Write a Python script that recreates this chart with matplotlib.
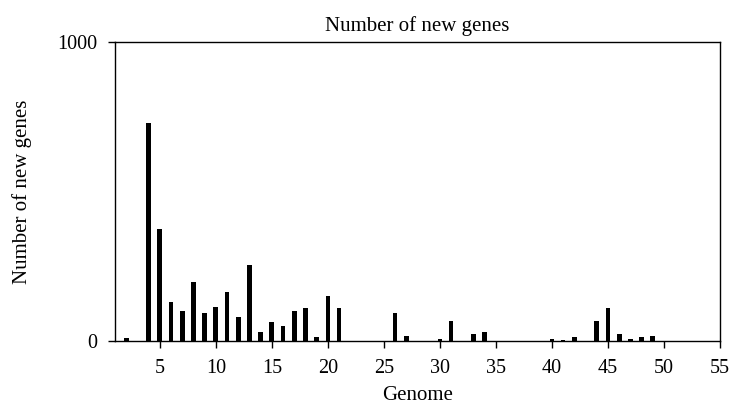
import matplotlib
matplotlib.use("Agg")
import matplotlib.pyplot as plt

# Datos
genomas = [2, 4, 5, 6, 7, 8, 9, 10, 11, 12, 13, 14, 15, 16, 17, 18, 19, 20, 21,
           26, 27, 30, 31, 33, 34, 40, 41, 42, 44, 45, 46, 47, 48, 49]
genes_nuevos = [10, 730, 376, 130, 101, 198, 92, 114, 165, 80, 255, 29, 63, 51, 101, 111, 13, 151, 109,
                93, 18, 7, 68, 25, 31, 5, 3, 13, 67, 109, 22, 8, 12, 15]
ticks_x = [5, 10, 15, 20, 25, 30, 35, 40, 45, 50, 55]
ticks_y = [0, 1000]

plt.rcParams['font.family'] = ['Liberation Serif', 'DejaVu Serif']

fig = plt.figure(figsize=(7.3, 4.07), dpi=100)
ax = fig.add_axes([0.1575, 0.1622, 0.8288, 0.7346])

ax.bar(genomas, genes_nuevos, width=0.42, color='black')

ax.set_xlim(1, 55)
ax.set_ylim(0, 1000)
ax.set_xticks(ticks_x)
ax.set_yticks(ticks_y)
ax.tick_params(direction='out', length=5, width=1, labelsize=14.5, pad=8)

for s in ax.spines.values():
    s.set_linewidth(1)

ax.set_title('Number of new genes', fontsize=15, pad=8)
ax.set_xlabel('Genome', fontsize=15, labelpad=6)
ax.set_ylabel('Number of new genes', fontsize=15, labelpad=18)

fig.savefig('out.png', dpi=100)
